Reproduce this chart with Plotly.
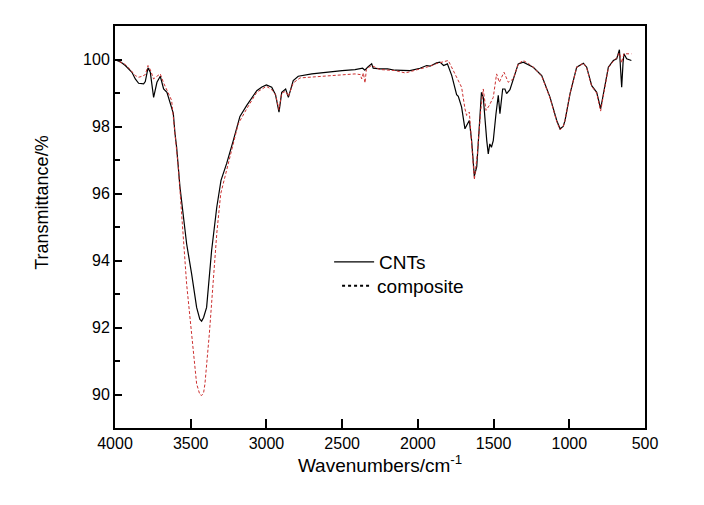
import plotly.graph_objects as go

# CNTs spectrum (wavenumber cm^-1, transmittance %)
cnt_wn = [4000, 3960, 3932, 3888, 3866, 3844, 3811, 3800, 3782, 3767, 3745, 3723, 3701, 3679, 3657,
          3635, 3615, 3604, 3593, 3571, 3544, 3527, 3494, 3461, 3440, 3428, 3415, 3395, 3362, 3328,
          3300, 3263, 3219, 3175, 3130, 3097, 3064, 3030, 3000, 2965, 2940, 2917, 2899, 2873, 2855,
          2823, 2790, 2700, 2613, 2500, 2415, 2382, 2365, 2350, 2330, 2305, 2295, 2250, 2200, 2150,
          2096, 2052, 1986, 1942, 1920, 1876, 1854, 1830, 1805, 1776, 1744, 1733, 1711, 1689, 1678,
          1660, 1645, 1634, 1627, 1611, 1590, 1580, 1568, 1555, 1545, 1535, 1525, 1514, 1502, 1484,
          1469, 1458, 1440, 1425, 1414, 1392, 1370, 1337, 1304, 1270, 1238, 1182, 1127, 1083, 1061,
          1040, 1028, 995, 951, 907, 885, 852, 819, 793, 775, 742, 709, 687, 669, 660, 654, 645, 639,
          621, 590]
cnt_t = [100.0, 99.92, 99.82, 99.62, 99.42, 99.29, 99.27, 99.34, 99.75, 99.62, 98.87, 99.32, 99.5, 99.12, 99.02,
         98.7, 98.39, 97.8, 97.38, 96.19, 95.19, 94.5, 93.6, 92.6, 92.25, 92.19, 92.3, 92.6, 94.3, 95.59,
         96.39, 96.89, 97.58, 98.3, 98.63, 98.85, 99.07, 99.18, 99.24, 99.17, 98.95, 98.43, 99.02, 99.12, 98.87,
         99.37, 99.5, 99.57, 99.62, 99.67, 99.70, 99.72, 99.74, 99.68, 99.78, 99.87, 99.74, 99.72, 99.72, 99.68,
         99.67, 99.67, 99.74, 99.82, 99.80, 99.90, 99.92, 99.82, 99.87, 99.52, 98.95, 98.9, 98.58, 97.93, 98.03,
         98.18, 97.58, 96.79, 96.52, 96.8, 98.58, 99.02, 98.87, 97.98, 97.58, 97.18, 97.48, 97.38, 97.58, 98.38,
         98.93, 98.38, 99.12, 99.12, 98.98, 99.10, 99.42, 99.87, 99.92, 99.85, 99.77, 99.52, 98.87, 98.18, 97.93,
         98.0, 98.18, 98.98, 99.77, 99.89, 99.77, 99.22, 99.02, 98.53, 98.93, 99.77, 99.97, 100.02, 100.29, 99.6, 99.17, 99.9, 100.17,
         100.02, 99.97]

# composite spectrum
comp_wn = [4000, 3960, 3932, 3900, 3866, 3844, 3820, 3800, 3782, 3767, 3745, 3723, 3701, 3679, 3657,
           3626, 3582, 3549, 3527, 3494, 3461, 3440, 3428, 3415, 3406, 3377, 3351, 3328, 3302, 3274,
           3230, 3186, 3130, 3064, 3000, 2965, 2940, 2917, 2899, 2873, 2855, 2823, 2778, 2613, 2415,
           2380, 2371, 2360, 2349, 2340, 2330, 2305, 2250, 2150, 2085, 2065, 1986, 1920, 1876, 1832,
           1799, 1744, 1711, 1689, 1678, 1660, 1645, 1627, 1607, 1585, 1568, 1550, 1528, 1502, 1480,
           1462, 1447, 1431, 1403, 1370, 1337, 1304, 1270, 1238, 1182, 1127, 1083, 1061, 1040, 1028,
           995, 951, 907, 885, 852, 819, 793, 775, 742, 709, 687, 669, 654, 639, 621, 590]
comp_t = [100.0, 99.92, 99.85, 99.7, 99.52, 99.47, 99.5, 99.55, 99.82, 99.7, 99.42, 99.5, 99.57, 99.3, 99.1,
          98.78, 96.79, 94.80, 93.30, 91.81, 90.32, 90.0, 89.97, 90.05, 90.32, 91.81, 93.30, 94.80, 95.99, 96.49,
          97.28, 98.08, 98.53, 99.02, 99.2, 99.1, 98.95, 98.5, 99.0, 99.05, 98.9, 99.3, 99.45, 99.5, 99.57,
          99.55, 99.42, 99.6, 99.3, 99.7, 99.75, 99.82, 99.7, 99.67, 99.6, 99.62, 99.72, 99.80, 99.88, 99.92,
          99.97, 99.47, 99.17, 98.53, 98.33, 98.43, 97.48, 96.41, 97.18, 98.48, 99.12, 98.48, 98.63, 98.87, 99.57,
          99.32, 99.47, 99.62, 99.32, 99.42, 99.87, 99.97, 99.88, 99.77, 99.5, 98.85, 98.15, 97.9, 98.0, 98.18,
          98.98, 99.77, 99.89, 99.75, 99.2, 99.0, 98.46, 98.9, 99.75, 99.95, 100.05, 100.2, 99.9, 100.17, 100.17, 100.17]

series_names = ["CNTs", "composite"]
x_ticks = [4000, 3500, 3000, 2500, 2000, 1500, 1000, 500]
y_ticks = [90, 92, 94, 96, 98, 100]

FONT = "Arial, 'Liberation Sans', sans-serif"

fig = go.Figure()
fig.add_trace(go.Scatter(x=cnt_wn, y=cnt_t, mode="lines", name=series_names[0], showlegend=False,
                         line=dict(color="black", width=1.2)))
fig.add_trace(go.Scatter(x=comp_wn, y=comp_t, mode="lines", name=series_names[1], showlegend=False,
                         line=dict(color="#cc3030", width=1, dash="3px,2px")))
# legend entries (legend samples are drawn in black in the original)
fig.add_trace(go.Scatter(x=[None], y=[None], mode="lines", name=series_names[0], legend="legend",
                         line=dict(color="black", width=1.2)))
fig.add_trace(go.Scatter(x=[None], y=[None], mode="lines", name=series_names[1], legend="legend2",
                         line=dict(color="black", width=2, dash="dot")))

# page body has an 8px default margin, so the figure is sized/placed to compensate
fig.update_layout(
    width=696, height=497,
    margin=dict(l=107, r=59, t=18, b=77),
    paper_bgcolor="white", plot_bgcolor="white",
    font=dict(family=FONT, color="black", size=16),
    legend=dict(x=0.404, y=0.46, xanchor="left", yanchor="top",
                bgcolor="rgba(0,0,0,0)", font=dict(size=19, family=FONT), itemwidth=40),
    legend2=dict(x=0.419, y=0.4005, xanchor="left", yanchor="top",
                 bgcolor="rgba(0,0,0,0)", font=dict(size=19, family=FONT), itemwidth=30),
    xaxis=dict(range=[4000, 500], tickvals=x_ticks, ticks="inside", ticklen=9, tickwidth=2,
               tickcolor="black", showline=True, linewidth=2, linecolor="black", mirror=True,
               showgrid=False, zeroline=False, tickfont=dict(size=16),
               title=dict(text="Wavenumbers/cm<sup>-1</sup>", font=dict(size=19), standoff=6)),
    yaxis=dict(range=[89, 101], tickvals=y_ticks, ticks="inside", ticklen=7, tickwidth=2,
               tickcolor="black", showline=True, linewidth=2, linecolor="black", mirror=True,
               showgrid=False, zeroline=False, tickfont=dict(size=16), ticklabelstandoff=0,
               minor=dict(dtick=1, tick0=89, ticks="inside", ticklen=5, tickwidth=2, tickcolor="black",
                          showgrid=False)),
    annotations=[dict(text="Transmittance/%", textangle=-90, xref="paper", yref="paper",
                      x=-0.138, y=0.56, xanchor="center", yanchor="middle", showarrow=False,
                      font=dict(size=18, family=FONT))],
)

fig.write_html("out.html")
